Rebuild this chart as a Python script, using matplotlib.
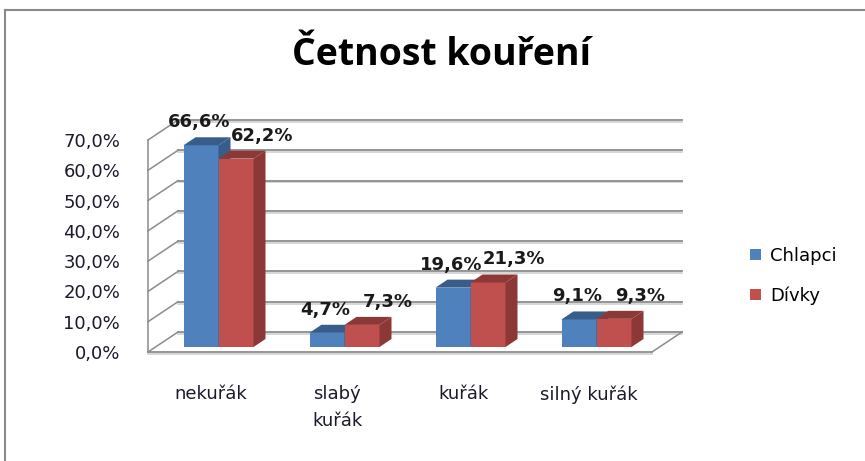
import matplotlib.pyplot as plt
from matplotlib.lines import Line2D
from matplotlib.patches import Patch, Polygon

categories = ["nekuřák", "slabý\nkuřák", "kuřák", "silný kuřák"]
chlapci = [66.6, 4.7, 19.6, 9.1]
divky = [62.2, 7.3, 21.3, 9.3]
series_names = ["Chlapci", "Dívky"]
y_ticks = [0, 10, 20, 30, 40, 50, 60, 70]

W, H = 865, 461
BLUE, BLUE_DARK = "#4F81BD", "#385D8A"
RED, RED_DARK = "#C0504D", "#8C3836"
GRID = "#8c8c8c"


def fmt(v):
    return f"{v:.1f}%".replace(".", ",")


fig = plt.figure(figsize=(W / 100, H / 100), dpi=100)
fig.patch.set_facecolor("white")

# plot front plane in pixels: x 148..652, y 352 (0 %) .. 140 (70 %)
ax = fig.add_axes([148 / W, 1 - 352 / H, 504 / W, 212 / H])
ax.set_xlim(-0.5, 3.5)
ax.set_ylim(0, 70)
for s in ax.spines.values():
    s.set_visible(False)

px = 4 / 504      # one pixel in category units
py = 70 / 212     # one pixel in percent units
DX, DY = 30 * px, 20 * py   # depth of the 3d box
x0, x1 = ax.get_xlim()

# back wall gridlines and left side wall
for t in y_ticks:
    ax.plot([x0 + DX, x1 + DX], [t + DY - 0.6, t + DY - 0.6], color="#d0d0d0", lw=1.2, clip_on=False, zorder=1)
    ax.plot([x0 + DX, x1 + DX], [t + DY, t + DY], color=GRID, lw=1.3, clip_on=False, zorder=1)
    ax.plot([x0, x0 + DX], [t, t + DY], color=GRID, lw=1.1, clip_on=False, zorder=1)
ax.plot([x0, x0], [0, 70], color=GRID, lw=1.1, clip_on=False, zorder=1)
# floor
ax.plot([x0, x1], [-0.6, -0.6], color="#d0d0d0", lw=1.2, clip_on=False, zorder=1)
ax.plot([x0, x1], [0, 0], color=GRID, lw=1.3, clip_on=False, zorder=1)
ax.plot([x1, x1 + DX], [0, DY], color=GRID, lw=1.1, clip_on=False, zorder=1)

# 3d bars
f, d = 0.25, 0.4
w = 35 * px


def bar3d(left, v, front, dark):
    a, b = left + f * DX, left + w + f * DX
    y0 = f * DY
    ex, ey = d * DX, d * DY
    ax.add_patch(Polygon([(a, y0), (b, y0), (b, v + y0), (a, v + y0)],
                         closed=True, fc=front, ec="none", clip_on=False, zorder=3))
    ax.add_patch(Polygon([(a, v + y0), (b, v + y0), (b + ex, v + y0 + ey), (a + ex, v + y0 + ey)],
                         closed=True, fc=dark, ec="none", clip_on=False, zorder=3))
    ax.add_patch(Polygon([(b, y0), (b + ex, y0 + ey), (b + ex, v + y0 + ey), (b, v + y0)],
                         closed=True, fc=dark, ec="none", clip_on=False, zorder=3))
    return (a + b) / 2, v + y0


for i in range(len(categories)):
    cx, top = bar3d(i - w, chlapci[i], BLUE, BLUE_DARK)
    ax.annotate(fmt(chlapci[i]), (cx, top), xytext=(-2, 23), textcoords="offset pixels",
                ha="center", va="center", fontsize=13, fontweight="bold", color="#1a1a1a",
                annotation_clip=False, zorder=4)
    cx, top = bar3d(i, divky[i], RED, RED_DARK)
    ax.annotate(fmt(divky[i]), (cx, top), xytext=(26, 23), textcoords="offset pixels",
                ha="center", va="center", fontsize=13, fontweight="bold", color="#1a1a1a",
                annotation_clip=False, zorder=4)

ax.set_yticks(y_ticks)
ax.set_yticklabels([fmt(t) for t in y_ticks], fontsize=13, color="#1a1a2a")
ax.set_xticks(range(len(categories)))
ax.set_xticklabels(categories, fontsize=13, color="#1a1a2a", linespacing=1.6)
ax.tick_params(axis="y", length=0, pad=20)
ax.tick_params(axis="x", length=0, pad=24)

fig.text(441 / W, 1 - 65 / H, "Četnost kouření", ha="center", va="baseline",
         fontsize=27, fontweight="bold", family="Open Sans")

handles = [Patch(fc=BLUE, ec="none"), Patch(fc=RED, ec="none")]
fig.legend(handles, series_names, loc="center left", bbox_to_anchor=(750 / W, 1 - 276 / H),
           frameon=False, fontsize=13, handlelength=0.6, handleheight=0.6,
           handletextpad=0.5, labelspacing=1.2, borderpad=0, borderaxespad=0)

# outer chart border (only top and left visible)
fig.add_artist(Line2D([5 / W, 1], [1 - 10 / H, 1 - 10 / H], color="#8a8a8a", lw=1.5))
fig.add_artist(Line2D([5 / W, 5 / W], [0, 1 - 10 / H], color="#8a8a8a", lw=1.5))

fig.savefig("out.png", dpi=100, facecolor="white")
